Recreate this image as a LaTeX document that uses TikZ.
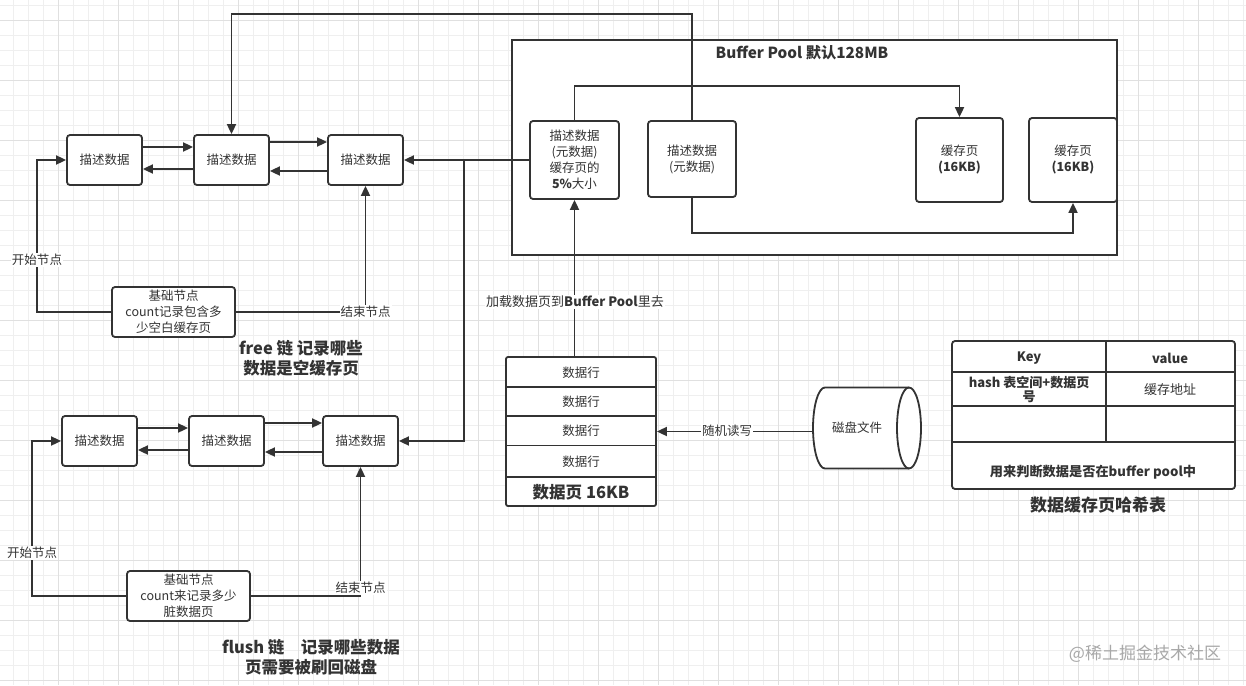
\documentclass[tikz,border=0pt]{standalone}
\usepackage{fontspec}
\setmainfont{Noto Sans CJK SC}
\usetikzlibrary{arrows.meta,calc}
\definecolor{ink}{HTML}{333333}
\definecolor{gmin}{HTML}{EFEFEF}
\definecolor{gmaj}{HTML}{E0E0E0}
\definecolor{wm}{HTML}{A8A8A8}
\begin{document}
\begin{tikzpicture}[x=1pt,y=-1pt,
  box/.style={draw=ink, fill=white, line width=1.8pt, rounded corners=3pt, align=center, inner sep=0pt, text=ink, font=\fontsize{12.5}{16}\selectfont},
  lnode/.style={box, minimum width=75pt, minimum height=50pt},
  basenode/.style={box, minimum width=123pt, minimum height=50pt},
  arr/.style={draw=ink, line width=1.8pt, -{Triangle[length=10pt,width=9pt]}},
  ln/.style={draw=ink, line width=1.8pt},
  lbl/.style={fill=white, text=ink, inner sep=1pt, font=\fontsize{12.5}{15}\selectfont},
  txt/.style={text=ink, inner sep=0pt, align=center, font=\fontsize{12.5}{16}\selectfont},
  ttl/.style={text=ink, align=center, inner sep=0pt, font=\fontsize{16.5}{20.5}\selectfont\bfseries},
]
\useasboundingbox (0,0) rectangle (1246,685);
\fill[white] (0,0) rectangle (1246,685);
% grid
\foreach \x in {13,28,...,1246} \draw[gmin, line width=0.8pt] (\x,0) -- (\x,685);
\foreach \y in {5,20,...,685} \draw[gmin, line width=0.8pt] (0,\y) -- (1246,\y);
\foreach \x in {58,118,...,1246} \draw[gmaj, line width=0.8pt] (\x,0) -- (\x,685);
\foreach \y in {20,80,...,685} \draw[gmaj, line width=0.8pt] (0,\y) -- (1246,\y);

% ---------- Buffer Pool ----------
\node[box, rounded corners=0pt, minimum width=605pt, minimum height=215pt] (pool) at (814.5,147.5) {};
\node[ttl, font=\fontsize{15.3}{18}\selectfont\bfseries] (pooltitle) at (802,53) {Buffer Pool 默认128MB};
\node[box, minimum width=89pt, minimum height=78pt] (M1) at (574.5,160) {描述数据\\(元数据)\\缓存页的\\\textbf{5\%}大小};
\node[box, minimum width=88pt, minimum height=76pt] (M2) at (692,159) {描述数据\\(元数据)};
\node[box, minimum width=87pt, minimum height=84pt] (C1) at (959.5,160) {缓存页\\\textbf{(16KB)}};
\node[box, minimum width=88pt, minimum height=84pt] (C2) at (1073,160) {缓存页\\\textbf{(16KB)}};

% ---------- free list ----------
\node[lnode] (A1) at (104.5,160) {描述数据};
\node[lnode] (A2) at (231.5,160) {描述数据};
\node[lnode] (A3) at (365.5,160) {描述数据};
\node[basenode] (B1) at (173.5,312) {基础节点\\count记录包含多\\少空白缓存页};
\node[ttl] (freetitle) at (301,358) {free 链 记录哪些\\数据是空缓存页};

% ---------- flush list ----------
\node[lnode] (F1) at (99.5,441) {描述数据};
\node[lnode] (F2) at (226.5,441) {描述数据};
\node[lnode] (F3) at (360.5,441) {描述数据};
\node[basenode] (G) at (188.5,596) {基础节点\\count来记录多少\\脏数据页};
\node[ttl] (flushtitle) at (311,657) {flush 链\quad 记录哪些数据\\页需要被刷回磁盘};

% ---------- data page ----------
\node[box, rounded corners=2pt, minimum width=150pt, minimum height=149pt] (DP) at (581,431.5) {};
\draw[ln] (506,387) -- (656,387);
\draw[ln] (506,416) -- (656,416);
\draw[ln] (506,445.5) -- (656,445.5);
\draw[ln] (506,477) -- (656,477);
\node[txt] (r1) at (581,373) {数据行};
\node[txt] (r2) at (581,402) {数据行};
\node[txt] (r3) at (581,431) {数据行};
\node[txt] (r4) at (581,462) {数据行};
\node[txt, font=\fontsize{16.5}{18}\selectfont\bfseries] (r5) at (581,492) {数据页 16KB};

% ---------- disk ----------
\node[minimum width=108pt, minimum height=81pt, inner sep=0pt] (disk) at (867,428) {};
\filldraw[ink, fill=white, line width=1.8pt] (825,387.5) -- (909,387.5) arc[start angle=-90, end angle=90, x radius=12, y radius=40.5] -- (825,468.5) arc[start angle=90, end angle=270, x radius=12, y radius=40.5] -- cycle;
\draw[ln] (909,387.5) arc[start angle=-90, end angle=-270, x radius=12, y radius=40.5];
\node[txt] (disktext) at (857,428) {磁盘文件};

% ---------- hash table ----------
\node[box, minimum width=283pt, minimum height=148pt] (HT) at (1093.5,415) {};
\draw[ln] (952,372) -- (1235,372);
\draw[ln] (952,406) -- (1235,406);
\draw[ln] (952,442) -- (1235,442);
\draw[ln] (1106,341) -- (1106,442);
\node[txt, font=\fontsize{13}{16}\selectfont\bfseries] (hkey) at (1029,358) {Key};
\node[txt, font=\fontsize{13}{16}\selectfont\bfseries] (hval) at (1170,358) {value};
\node[txt, font=\fontsize{13}{14}\selectfont\bfseries] (hk1) at (1029,389) {hash 表空间+数据页\\号};
\node[txt, font=\fontsize{13}{16}\selectfont] (hv1) at (1170,390) {缓存地址};
\node[txt, font=\fontsize{13.2}{16}\selectfont\bfseries] (hnote) at (1093,472) {用来判断数据是否在buffer pool中};
\node[ttl, font=\fontsize{17}{20}\selectfont\bfseries] (httitle) at (1098,505) {数据缓存页哈希表};

% ---------- connectors ----------
% free list links
\draw[arr] ([yshift=13pt]A1.east) -- ([yshift=13pt]A2.west);
\draw[arr] ([yshift=-9pt]A2.west) -- ([yshift=-9pt]A1.east);
\draw[arr] ([yshift=18pt]A2.east) -- ([yshift=18pt]A3.west);
\draw[arr] ([yshift=-11pt]A3.west) -- ([yshift=-11pt]A2.east);
\coordinate (s1) at (37,260);
\draw[arr] (B1.west) -| (s1) |- (A1.west);
\draw[arr] (B1.east) -| (A3.south);
\node[lbl] (s1l) at (s1) {开始节点};
\node[lbl] (e1l) at (A3.south |- B1.east) {结束节点};

% flush list links
\draw[arr] ([yshift=13pt]F1.east) -- ([yshift=13pt]F2.west);
\draw[arr] ([yshift=-9pt]F2.west) -- ([yshift=-9pt]F1.east);
\draw[arr] ([yshift=18pt]F2.east) -- ([yshift=18pt]F3.west);
\draw[arr] ([yshift=-11pt]F3.west) -- ([yshift=-11pt]F2.east);
\coordinate (s2) at (32,553);
\draw[arr] (G.west) -| (s2) |- (F1.west);
\draw[arr] (G.east) -| (F3.south);
\node[lbl] (s2l) at (s2) {开始节点};
\node[lbl] (e2l) at ([yshift=8pt]F3.south |- G.east) {结束节点};

% buffer pool internal
\draw[arr] (M1.north) -- ++(0,-34) -| (C1.north);
\draw[arr] (M2.south) -- ++(0,35) -| (C2.south);
\coordinate (tp) at (231.5,14);
\draw[arr] (M2.north) |- (tp) -- (A2.north);

% metadata to lists
\draw[arr] (M1.west) -- (A3.east);
\coordinate (j) at (464,160);
\draw[arr] (j) |- (F3.east);

% data page to buffer pool
\draw[arr] (M1.south |- DP.north) -- (M1.south);
\node[lbl, font=\fontsize{13}{15}\selectfont] (loadl) at (575,302) {加载数据页到\textbf{Buffer Pool}里去};

% disk to data page
\draw[arr] (DP.east -| disk.west) -- (DP.east);
\node[lbl] (rwl) at (727,431) {随机读写};

% watermark
\node[text=wm, inner sep=0pt, font=\fontsize{17}{20}\selectfont] (wmark) at (1145,654) {@稀土掘金技术社区};
\end{tikzpicture}
\end{document}
